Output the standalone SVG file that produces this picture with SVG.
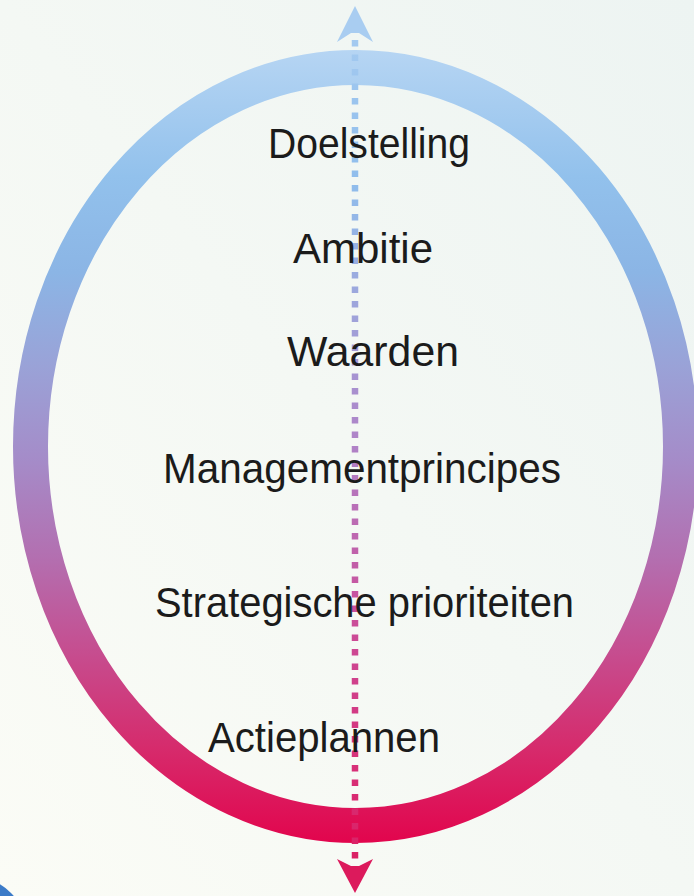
<svg xmlns="http://www.w3.org/2000/svg" width="694" height="896" viewBox="0 0 694 896">
  <defs>
    <linearGradient id="bg" x1="1" y1="0" x2="0" y2="1">
      <stop offset="0" stop-color="#edf4f2"/>
      <stop offset="1" stop-color="#fbfcf6"/>
    </linearGradient>
    <linearGradient id="ringGrad" gradientUnits="userSpaceOnUse" x1="0" y1="50" x2="0" y2="843">
      <stop offset="0" stop-color="#b6d5f3"/>
      <stop offset="0.16" stop-color="#92c1ec"/>
      <stop offset="0.28" stop-color="#8bb5e5"/>
      <stop offset="0.40" stop-color="#9aa2d7"/>
      <stop offset="0.52" stop-color="#a58bc8"/>
      <stop offset="0.64" stop-color="#b36fb0"/>
      <stop offset="0.76" stop-color="#c64d8f"/>
      <stop offset="0.88" stop-color="#d62b6c"/>
      <stop offset="1" stop-color="#e2054d"/>
    </linearGradient>
    <linearGradient id="lineGrad" gradientUnits="userSpaceOnUse" x1="0" y1="5" x2="0" y2="893">
      <stop offset="0" stop-color="#a9cdf1"/>
      <stop offset="0.2" stop-color="#8fbdec"/>
      <stop offset="0.35" stop-color="#9fa3da"/>
      <stop offset="0.5" stop-color="#b081c6"/>
      <stop offset="0.68" stop-color="#c9509c"/>
      <stop offset="0.85" stop-color="#d7317a"/>
      <stop offset="1" stop-color="#dc1a5c"/>
    </linearGradient>
    <style>
      .lbl { font-family: "Liberation Sans", "Noto Sans", Arial, sans-serif; font-size: 42px; fill: #1b1b1b; }
    </style>
  </defs>

  <rect width="694" height="896" fill="url(#bg)"/>
  <circle cx="-30" cy="934" r="58" fill="#3c7bc8"/>

  <g id="ring">
    <ellipse cx="355.5" cy="446.5" rx="325" ry="379" fill="none" stroke="url(#ringGrad)" stroke-width="35"/>
  </g>

  <g id="connectors">
    <line x1="355" y1="40" x2="355" y2="864" stroke="url(#lineGrad)" stroke-width="6.5" stroke-dasharray="6.5 8"/>
    <path d="M355,6 L373,42 L359,33 L351,33 L337,42 Z" fill="#a9cdf1"/>
    <path d="M355,893 L373,859 L359,866 L351,866 L337,859 Z" fill="#dc1a5c"/>
  </g>

  <g id="node-doelstelling">
    <text class="lbl" x="268" y="158" textLength="202" lengthAdjust="spacingAndGlyphs">Doelstelling</text>
  </g>
  <g id="node-ambitie">
    <text class="lbl" x="293" y="263" textLength="140" lengthAdjust="spacingAndGlyphs">Ambitie</text>
  </g>
  <g id="node-waarden">
    <text class="lbl" x="287" y="366" textLength="172" lengthAdjust="spacingAndGlyphs">Waarden</text>
  </g>
  <g id="node-managementprincipes">
    <text class="lbl" x="163" y="483" textLength="398" lengthAdjust="spacingAndGlyphs">Managementprincipes</text>
  </g>
  <g id="node-strategische-prioriteiten">
    <text class="lbl" x="155" y="617" textLength="419" lengthAdjust="spacingAndGlyphs">Strategische prioriteiten</text>
  </g>
  <g id="node-actieplannen">
    <text class="lbl" x="208" y="752" textLength="232" lengthAdjust="spacingAndGlyphs">Actieplannen</text>
  </g>
</svg>
